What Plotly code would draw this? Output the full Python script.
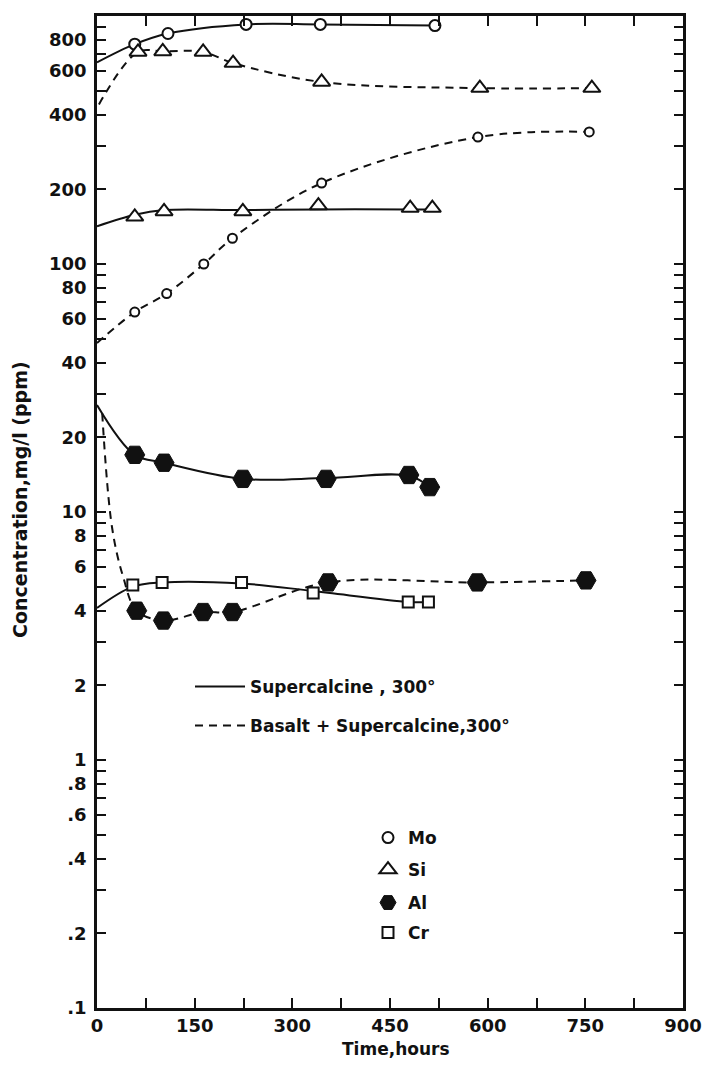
import plotly.graph_objects as go

# ---------------- data ----------------
# Supercalcine, 300 deg (solid curves)
mo_sc_t = [58, 109, 229, 343, 519]
mo_sc = [770, 850, 925, 925, 915]
mo_sc_line_t = [0] + mo_sc_t
mo_sc_line = [650] + mo_sc

si_sc_t = [58, 103, 224, 340, 481, 515]
si_sc = [155, 163, 163, 172, 168, 168]
si_sc_line_t = [0] + si_sc_t
si_sc_line = [142, 158, 165, 165, 166, 166, 166]

al_sc_t = [58, 103, 224, 352, 479, 511]
al_sc = [17.0, 15.8, 13.6, 13.6, 14.1, 12.6]
al_sc_line_t = [0] + al_sc_t
al_sc_line = [27, 17.0, 15.8, 13.6, 13.7, 14.0, 12.6]

cr_sc_t = [55, 100, 222, 332, 478, 509]
cr_sc = [5.08, 5.2, 5.2, 4.71, 4.34, 4.34]
cr_sc_line_t = [0] + cr_sc_t
cr_sc_line = [4.1, 5.0, 5.2, 5.15, 4.8, 4.34, 4.34]

# Basalt + Supercalcine, 300 deg (dashed curves)
mo_bs_t = [58, 107, 164, 208, 345, 585, 756]
mo_bs = [64, 76, 100, 127, 212, 325, 341]
mo_bs_line_t = [0] + mo_bs_t
mo_bs_line = [48] + mo_bs

si_bs_t = [63, 101, 163, 209, 345, 588, 760]
si_bs = [716, 720, 716, 646, 542, 512, 512]
si_bs_line_t = [3] + si_bs_t
si_bs_line = [440] + si_bs

al_bs_t = [61, 102, 163, 208, 355, 584, 751]
al_bs = [4.0, 3.65, 3.95, 3.95, 5.2, 5.2, 5.3]
al_bs_line_t = [8, 23, 40] + al_bs_t
al_bs_line = [25, 8.7, 5.5] + al_bs

# axis ticks
x_tickvals = [0, 75, 150, 225, 300, 375, 450, 525, 600, 675, 750, 825, 900]
x_ticktext = ["0", "", "150", "", "300", "", "450", "", "600", "", "750", "", "900"]
y_tickvals = [0.1, 0.2, 0.3, 0.4, 0.5, 0.6, 0.7, 0.8, 0.9,
              1, 2, 3, 4, 5, 6, 7, 8, 9,
              10, 20, 30, 40, 50, 60, 70, 80, 90,
              100, 200, 300, 400, 500, 600, 700, 800, 900]
y_ticktext = [".1", ".2", "", ".4", "", ".6", "", ".8", "",
              "1", "2", "", "4", "", "6", "", "8", "",
              "10", "20", "", "40", "", "60", "", "80", "",
              "100", "200", "", "400", "", "600", "", "800", ""]

FONT = "DejaVu Sans"
BLACK = "#111111"

fig = go.Figure()


def curve(t, v, dash, name=None, legend=None):
    fig.add_trace(go.Scatter(
        x=t, y=v, mode="lines",
        line=dict(color=BLACK, width=2, dash=dash, shape="spline", smoothing=1.0),
        name=name or "", showlegend=name is not None, legend=legend or "legend",
        hoverinfo="skip"))


def marks(t, v, symbol, size, filled, name=None, legend=None, lw=2):
    fig.add_trace(go.Scatter(
        x=t, y=v, mode="markers",
        marker=dict(symbol=symbol, size=size, color=BLACK if filled else "white",
                    line=dict(color=BLACK, width=lw)),
        name=name or "", showlegend=name is not None, legend=legend or "legend"))


# solid curves
curve(mo_sc_line_t, mo_sc_line, "solid", "Supercalcine , 300°", "legend")
curve(si_sc_line_t, si_sc_line, "solid")
curve(al_sc_line_t, al_sc_line, "solid")
curve(cr_sc_line_t, cr_sc_line, "solid")
# dashed curves
curve(mo_bs_line_t, mo_bs_line, "8px,6px", "Basalt + Supercalcine,300°", "legend2")
curve(si_bs_line_t, si_bs_line, "8px,6px")
curve(al_bs_line_t, al_bs_line, "8px,6px")

# markers
marks(mo_sc_t, mo_sc, "circle", 11, False, "Mo", "legend3")
marks(mo_bs_t, mo_bs, "circle", 9, False)
marks(si_sc_t, si_sc, "triangle-up", 15, False, "Si", "legend4")
marks(si_bs_t, si_bs, "triangle-up", 15, False)
marks(al_sc_t, al_sc, "hexagon2", 20, True, "Al", "legend5", lw=1)
marks(al_bs_t, al_bs, "hexagon2", 20, True, lw=1)
marks(cr_sc_t, cr_sc, "square", 11, False, "Cr", "legend6")

# geometry: page body has an 8px margin, so work in window pixels minus OFF
OFF = 8
WIN_W, WIN_H = 715, 1070
W, H = WIN_W - 2 * OFF, WIN_H - 2 * OFF
PL, PR, PT, PB = 97, 683, 16, 1008          # plot area in window pixels
L, T = PL - OFF, PT - OFF
R, B = W - (PR - OFF), H - (PB - OFF)
pw, ph = PR - PL, PB - PT


def px_x(px):
    return (px - PL) / pw


def px_y(py):
    return (PB - py) / ph


leg_font = dict(family=FONT, size=17, color=BLACK, weight="bold")


def legend_at(xpx, ypx, itemwidth=30):
    return dict(x=px_x(xpx), y=px_y(ypx), xanchor="left", yanchor="middle",
                bgcolor="rgba(0,0,0,0)", borderwidth=0, font=leg_font,
                itemwidth=itemwidth, tracegroupgap=0, itemclick=False)


tick_font = dict(family=FONT, size=18, color=BLACK, weight="bold")

fig.update_layout(
    width=W, height=H,
    margin=dict(l=L, r=R, t=T, b=B, pad=0),
    paper_bgcolor="white", plot_bgcolor="white",
    font=dict(family=FONT, size=17, color=BLACK),
    legend=legend_at(190, 687, 50),
    legend2=legend_at(190, 726, 50),
    legend3=legend_at(368, 838),
    legend4=legend_at(368, 870),
    legend5=legend_at(368, 903),
    legend6=legend_at(368, 933),
    xaxis=dict(range=[0, 900], tickvals=x_tickvals, ticktext=x_ticktext,
               ticks="inside", ticklen=10, tickwidth=2, tickcolor=BLACK,
               showline=True, linewidth=2.5, linecolor=BLACK, mirror="ticks",
               showgrid=False, zeroline=False, automargin=False,
               tickfont=tick_font),
    yaxis=dict(type="log", range=[-1, 3], tickvals=y_tickvals, ticktext=y_ticktext,
               ticks="inside", ticklen=9, tickwidth=2, tickcolor=BLACK,
               showline=True, linewidth=2.5, linecolor=BLACK, mirror="ticks",
               showgrid=False, zeroline=False, ticklabelstandoff=4, automargin=False,
               tickfont=tick_font),
    annotations=[
        dict(text="Concentration,mg/l (ppm)", textangle=-90, xref="paper", yref="paper",
             x=px_x(20), y=px_y(500), xanchor="center", yanchor="middle", showarrow=False,
             font=dict(family=FONT, size=19, color=BLACK, weight="bold")),
        dict(text="Time,hours", xref="paper", yref="paper",
             x=px_x(396), y=px_y(1049), xanchor="center", yanchor="middle", showarrow=False,
             font=dict(family=FONT, size=17, color=BLACK, weight="bold")),
    ],
)

fig.write_html("out.html")
